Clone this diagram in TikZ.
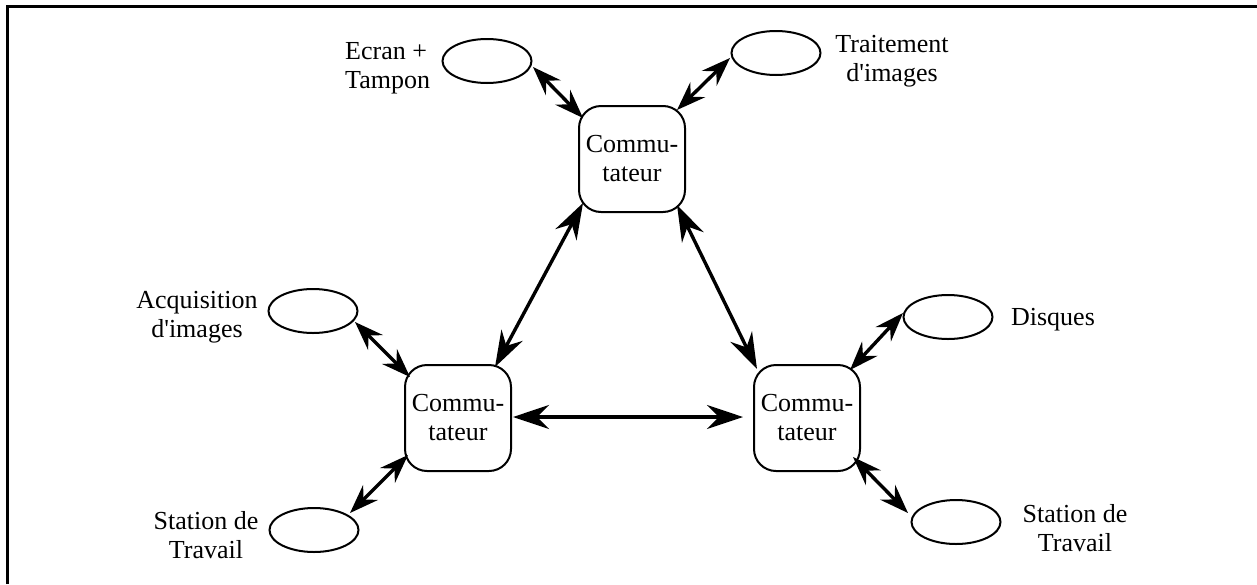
\documentclass[tikz,border=0pt]{standalone}
\usepackage{fontspec}
\setmainfont{Liberation Serif}
\usetikzlibrary{arrows.meta,shapes.geometric,calc}
\begin{document}
\begin{tikzpicture}[x=1pt,y=-1pt,
  font=\fontsize{26}{29}\selectfont,
  switchbox/.style={draw, line width=2pt, rounded corners=22pt, minimum width=106pt, minimum height=106pt, inner sep=0pt, align=center},
  devell/.style={draw, ellipse, line width=2pt, minimum width=89pt, minimum height=44pt, inner sep=0pt},
  lbl/.style={inner sep=0pt, align=center, anchor=north},
  bigarr/.style={line width=3.4pt, arrows={Stealth[length=36pt 0 0,width=24pt 0 0,inset=12pt 0]-Stealth[length=36pt 0 0,width=24pt 0 0,inset=12pt 0]}},
  smallarr/.style={line width=3.4pt, arrows={Stealth[length=29pt 0 0,width=21pt 0 0,inset=10pt 0]-Stealth[length=29pt 0 0,width=21pt 0 0,inset=10pt 0]}},
  framestyle/.style={line width=3pt}]
\useasboundingbox (0,0) rectangle (1257,584);
% frame (only top and left edges visible)
\coordinate (fbl) at (7.5,584);
\coordinate (ftl) at (7.5,6);
\coordinate (ftr) at (1257,6);
\draw[framestyle] (fbl) -- (ftl) -- (ftr);

% switches
\node[switchbox] (s1) at (632,159) {Commu-\\tateur};
\node[switchbox] (s2) at (458,418) {Commu-\\tateur};
\node[switchbox] (s3) at (807,418) {Commu-\\tateur};

% devices
\node[devell] (e1) at (487,61) {};
\node[devell] (e2) at (776,53) {};
\node[devell] (e3) at (313,311) {};
\node[devell] (e4) at (314,530) {};
\node[devell] (e5) at (948,317) {};
\node[devell] (e6) at (956,522) {};

% labels
\node[lbl, align=left, anchor=north west] (l1) at (345,42) {Ecran +\\Tampon};
\node[lbl] (l2) at (892,35) {Traitement\\d\textquotesingle images};
\node[lbl] (l3) at (197,291) {Acquisition\\d\textquotesingle images};
\node[lbl] (l4) at (206,511) {Station de\\Travail};
\node[lbl] (l5) at (1053,308) {Disques};
\node[lbl] (l6) at (1075,504) {Station de\\Travail};

% connectors between switches
\draw[bigarr] ($(s1)+(-49,44)$) -- ($(s2)+(37,-51)$);
\draw[bigarr] ($(s1)+(45,46)$) -- ($(s3)+(-50,-49)$);
\draw[bigarr] ($(s2)+(55,-1)$) -- ($(s3)+(-64,-1)$);

% connectors to devices
\draw[smallarr] ($(e1)+(46,6)$) -- ($(s1)+(-49,-41)$);
\draw[smallarr] ($(e2)+(-46,5)$) -- ($(s1)+(45,-49)$);
\draw[smallarr] ($(e3)+(42,11)$) -- ($(s2)+(-48,-41)$);
\draw[smallarr] ($(e4)+(36,-17)$) -- ($(s2)+(-50,37)$);
\draw[smallarr] ($(e5)+(-45,-4)$) -- ($(s3)+(43,-48)$);
\draw[smallarr] ($(e6)+(-48,-9)$) -- ($(s3)+(46,39)$);
\end{tikzpicture}
\end{document}
